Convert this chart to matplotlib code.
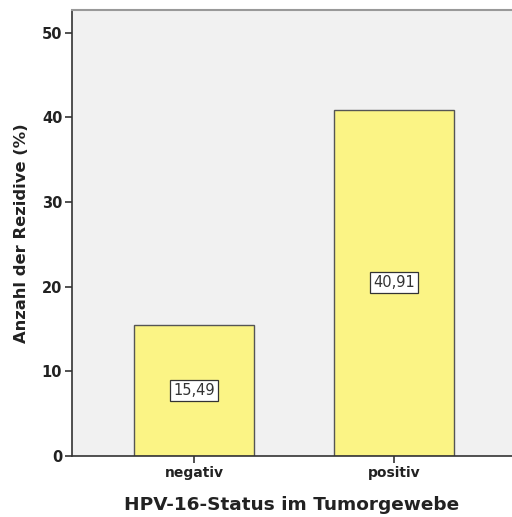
import matplotlib
matplotlib.use("Agg")
import matplotlib.pyplot as plt

categories = ["negativ", "positiv"]
values = [15.49, 40.91]
y_ticks = [0, 10, 20, 30, 40, 50]

fig = plt.figure(figsize=(5.12, 5.17), dpi=100)
ax = fig.add_axes([72 / 512, 61 / 517, 440 / 512, 446 / 517])
ax.set_facecolor("#f1f1f1")

x = list(range(len(categories)))
ax.bar(x, values, width=0.6, color="#fbf485", edgecolor="#555555", linewidth=1.0, zorder=2)

for xi, v in zip(x, values):
    ax.text(xi, v / 2, f"{v:.2f}".replace(".", ","), ha="center", va="center",
            fontsize=10.5, color="#333333", zorder=3,
            bbox=dict(boxstyle="square,pad=0.2", facecolor="white", edgecolor="#333333", linewidth=0.9))

ax.set_xlim(-0.61, 1.59)
ax.set_ylim(0, 52.7)
ax.set_xticks(x)
ax.set_xticklabels(categories, fontsize=10, fontweight="bold", color="#222222")
ax.set_yticks(y_ticks)
ax.set_yticklabels([str(t) for t in y_ticks], fontsize=10.5, fontweight="bold", color="#222222")
ax.tick_params(axis="both", length=5, width=1.2, color="#333333", pad=2)

ax.spines["right"].set_visible(False)
ax.spines["top"].set_color("#999999")
ax.spines["top"].set_linewidth(1.5)
ax.spines["left"].set_color("#333333")
ax.spines["bottom"].set_color("#333333")
ax.spines["left"].set_linewidth(1.2)
ax.spines["bottom"].set_linewidth(1.2)

ax.set_ylabel("Anzahl der Rezidive (%)", fontsize=11.8, fontweight="bold", color="#222222", labelpad=9)
ax.set_xlabel("HPV-16-Status im Tumorgewebe", fontsize=13.3, fontweight="bold", color="#222222", labelpad=12)

fig.savefig("out.png", dpi=100)
